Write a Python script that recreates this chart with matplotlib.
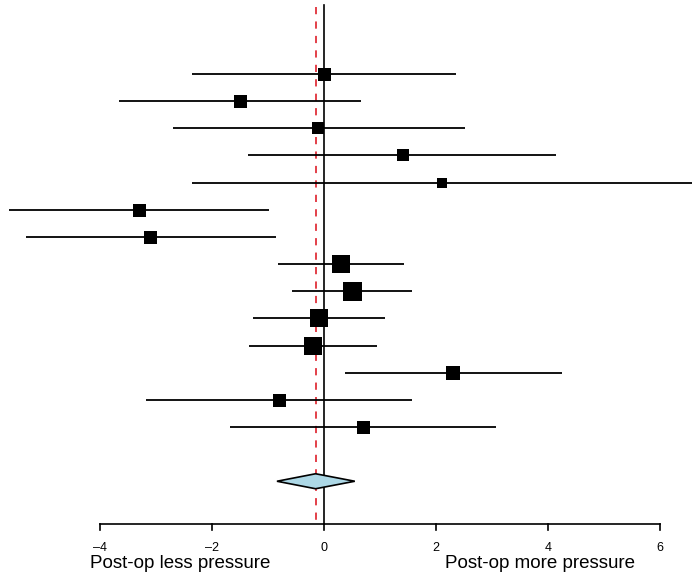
import numpy as np
import matplotlib.pyplot as plt
from matplotlib.patches import Polygon

# study estimates (mean difference) with 95% CI, top to bottom
est = [0.00, -1.50, -0.10, 1.41, 2.11, -3.30, -3.10, 0.30, 0.50, -0.09, -0.20, 2.30, -0.80, 0.70]
lower = [-2.35, -3.66, -2.70, -1.36, -2.36, -5.62, -5.33, -0.82, -0.57, -1.27, -1.34, 0.375, -3.18, -1.68]
upper = [2.35, 0.66, 2.52, 4.14, 6.57, -0.98, -0.86, 1.43, 1.58, 1.09, 0.95, 4.25, 1.58, 3.08]
weights = [6.5, 6.5, 6.0, 6.3, 4.8, 6.5, 6.5, 9.3, 9.5, 9.0, 9.0, 7.0, 6.5, 6.5]

# pooled random-effects estimate
pooled = -0.15
pooled_lo = -0.84
pooled_hi = 0.55

xticks = [-4, -2, 0, 2, 4, 6]

plt.rcParams['font.family'] = ['Liberation Sans', 'DejaVu Sans']

W, H = 698, 575
fig = plt.figure(figsize=(W / 100, H / 100), dpi=100)
ax = fig.add_axes([0, 0, 1, 1])
ax.axis('off')

# pixel layout: x=0 at 324px, 56px per unit; rows 27.15px apart from 74px
x0, xs = 324, 56.0
y0, ys = 74, 27.15
ax.set_xlim(-x0 / xs, (W - x0) / xs)
ax.set_ylim(1 + (H - y0) / ys, 1 - y0 / ys)

rows = np.arange(1, len(est) + 1)
ax_y = 1 + (524 - y0) / ys
top_y = 1 + (5 - y0) / ys

# reference lines
ax.plot([0, 0], [top_y, ax_y], color='black', lw=1.2)
ax.plot([pooled, pooled], [top_y + 2 / ys, ax_y], color='#e0303a', lw=1.3,
        linestyle=(0, (4, 4)))

for r, e, lo, hi, w in zip(rows, est, lower, upper, weights):
    ax.plot([lo, hi], [r, r], color='black', lw=1.3, solid_capstyle='butt')
    ax.plot(e, r, marker='s', color='black', markersize=w * 2.0 * 0.72,
            markeredgewidth=0)

# summary diamond, drawn over the reference lines
dy = 16
hh = 7.5 / ys
diamond = Polygon([[pooled_lo, dy], [pooled, dy - hh], [pooled_hi, dy], [pooled, dy + hh]],
                  closed=True, facecolor='#add8e6', edgecolor='black', lw=1.2, zorder=3)
ax.add_patch(diamond)

# x axis drawn by hand
ax.plot([xticks[0], xticks[-1]], [ax_y, ax_y], color='black', lw=1.2)
tick_len = 6 / ys
for t in xticks:
    ax.plot([t, t], [ax_y, ax_y + tick_len], color='black', lw=1.2)
    ax.text(t, ax_y + 24 / ys, str(t).replace('-', '\u2013'), ha='center', va='center',
            fontsize=9)

lab_y = ax_y + 39 / ys
ax.text((90 - x0) / xs, lab_y, 'Post-op less pressure', ha='left', va='center', fontsize=13.5)
ax.text((445 - x0) / xs, lab_y, 'Post-op more pressure', ha='left', va='center', fontsize=13.5)

fig.savefig('out.png', dpi=100)
